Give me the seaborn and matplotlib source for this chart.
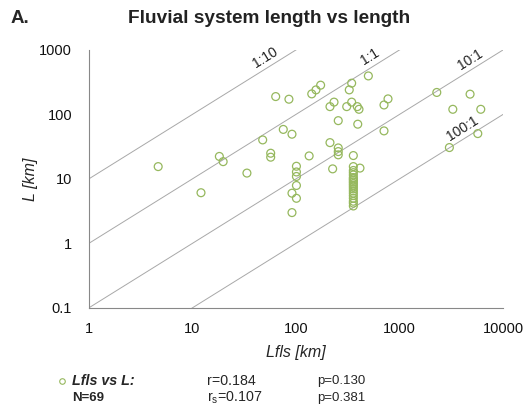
import numpy as np
import pandas as pd
import matplotlib
matplotlib.use("Agg")
import matplotlib.pyplot as plt
from matplotlib.lines import Line2D
import seaborn as sns
from matplotlib.ticker import FixedLocator, FixedFormatter, LogLocator, NullFormatter

# ---- data ----
lfls = [4.67, 12.1, 18.2, 19.8, 33.6, 47.7, 57, 57, 63.7, 85.5, 75.4, 91.5,
        101, 101, 101, 101, 91.5, 101, 91.5,
        142, 156, 173, 345, 500, 327, 233, 213, 345, 309, 391, 406, 774, 708,
        256, 395, 708, 213, 256, 256, 256, 134, 226, 415,
        2290, 4800, 3270, 6090, 5700, 3030,
        358, 358, 358, 358, 358, 358, 358, 358, 358, 358,
        358, 358, 358, 358, 358, 358, 358, 358, 358, 358]
length = [15.5, 6.1, 22.3, 18.5, 12.3, 40.2, 25, 21.7, 189, 172, 58.5, 49.3,
          15.7, 12.8, 10.9, 7.9, 6.0, 5.0, 3.0,
          208, 240, 284, 305, 395, 240, 155, 132, 155, 132, 132, 120, 174, 140,
          80, 70.5, 55.5, 36.5, 30.2, 26.5, 23.6, 22.7, 14.3, 14.7,
          219, 206, 120, 120, 50.4, 30.6,
          23, 15.5, 13.5, 12.5, 11.5, 10.5, 10, 9.5, 9, 8.5,
          8, 7.5, 7, 6.5, 6, 5.5, 5, 4.5, 4.2, 3.8]
ratio_values = [10, 1, 0.1, 0.01]          # L = ratio * Lfls
ratio_labels = ["1:10", "1:1", "10:1", "100:1"]
ratio_label_x = [50, 520, 4800, 4100]
x_ticks = [1, 10, 100, 1000, 10000]
x_tick_labels = ["1", "10", "100", "1000", "10000"]
y_ticks = [0.1, 1, 10, 100, 1000]
y_tick_labels = ["0.1", "1", "10", "100", "1000"]

df = pd.DataFrame({"Lfls": lfls, "L": length})

sns.set_theme(style="white")
plt.rcParams["font.family"] = ["Liberation Sans", "DejaVu Sans"]

fig = plt.figure(figsize=(5.29, 4.16), dpi=100)
ax = fig.add_axes([0.168, 0.26, 0.783, 0.62])

green = "#96B85E"
line_c = "#a8a8a8"

# reference ratio lines
xs = np.array([1, 10000], dtype=float)
for r, lab, lx in zip(ratio_values, ratio_labels, ratio_label_x):
    ldf = pd.DataFrame({"x": xs, "y": xs * r})
    sns.lineplot(data=ldf, x="x", y="y", ax=ax, color=line_c, lw=0.7)
    ax.text(lx, lx * r * 1.5, lab, rotation=32, ha="center", va="center",
            fontsize=10, color="#222222", rotation_mode="anchor")

sns.scatterplot(data=df, x="Lfls", y="L", ax=ax, marker="o", s=32,
                facecolor="none", edgecolor=green, linewidth=0.9, zorder=3)

ax.set_xscale("log")
ax.set_yscale("log")
ax.set_xlim(1, 10000)
ax.set_ylim(0.1, 1000)

ax.xaxis.set_major_locator(FixedLocator(x_ticks))
ax.xaxis.set_major_formatter(FixedFormatter(x_tick_labels))
ax.yaxis.set_major_locator(FixedLocator(y_ticks))
ax.yaxis.set_major_formatter(FixedFormatter(y_tick_labels))
ax.xaxis.set_minor_locator(LogLocator(base=10, subs=np.arange(2, 10)))
ax.yaxis.set_minor_locator(LogLocator(base=10, subs=np.arange(2, 10)))
ax.xaxis.set_minor_formatter(NullFormatter())
ax.yaxis.set_minor_formatter(NullFormatter())
ax.tick_params(which="both", direction="in", colors="#888888", labelcolor="#111111",
               labelsize=10.5, width=0.7)
ax.tick_params(which="major", length=4, pad=12)
ax.tick_params(which="minor", length=3)
ax.tick_params(axis="x", pad=10)

for s in ["top", "right"]:
    ax.spines[s].set_visible(False)
for s in ["left", "bottom"]:
    ax.spines[s].set_color("#888888")
    ax.spines[s].set_linewidth(0.8)

ax.set_xlabel("Lfls [km]", fontsize=11.5, style="italic", labelpad=7)
ax.set_ylabel("L [km]", fontsize=11.5, style="italic", labelpad=1)

fig.text(0.019, 0.955, "A.", fontsize=13.5, fontweight="bold", va="center", ha="left")
fig.text(0.508, 0.955, "Fluvial system length vs length", fontsize=13.7,
         fontweight="bold", va="center", ha="center", color="#222222")

# footer
row1, row2 = 0.083, 0.044
fig.add_artist(Line2D([0.1166], [row1], marker="o", markersize=4, linestyle="none",
                      markerfacecolor="none", markeredgecolor=green,
                      markeredgewidth=0.8, transform=fig.transFigure))
fig.text(0.137, row1, "Lfls vs L:", fontsize=10.3, fontweight="bold", style="italic",
         va="center")
fig.text(0.137, row2, "N=69", fontsize=9.5, fontweight="bold", va="center")
fig.text(0.391, row1, "r=0.184", fontsize=10.3, va="center")
fig.text(0.391, row2, r"r$_\mathregular{s}$=0.107", fontsize=10.3, va="center")
fig.text(0.599, row1, "p=0.130", fontsize=9.5, va="center")
fig.text(0.599, row2, "p=0.381", fontsize=9.5, va="center")

fig.savefig("out.png", dpi=100)
